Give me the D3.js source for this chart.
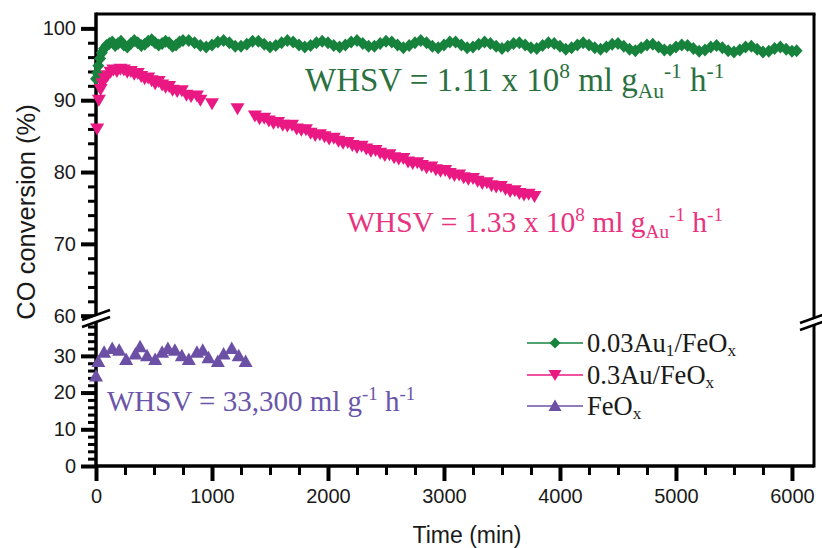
<!DOCTYPE html>
<html><head><meta charset="utf-8">
<script src="https://cdn.jsdelivr.net/npm/d3@7"></script>
<style>body{margin:0;background:#fff}svg{display:block}</style>
</head><body>
<svg id="c" width="822" height="548"></svg>
<script>
// ---------------- data ----------------
const xTickLabels = [0, 1000, 2000, 3000, 4000, 5000, 6000];
const yUpperTickLabels = [60, 70, 80, 90, 100];
const yLowerTickLabels = [0, 10, 20, 30];

const seriesNames = ["0.03Au1/FeOx", "0.3Au/FeOx", "FeOx"];

const greenTime = [0,10,20,35,50,70,90,115,140,165,190,215,240,270,300,330,360,390,420,450,480,510,540,570,600,630,660,690,720,750,
  800,850,900,950,1000,1050,1100,1150,1200,1250,1300,1350,1400,1450,1500,1550,1600,1650,1700,1750,1800,1850,1900,1950,2000,
  2050,2100,2150,2200,2250,2300,2350,2400,2450,2500,2550,2600,2650,2700,2750,2800,2850,2900,2950,3000,3050,3100,3150,3200,
  3250,3300,3350,3400,3450,3500,3550,3600,3650,3700,3750,3800,3850,3900,3950,4000,4050,4100,4150,4200,4250,4300,4350,4400,
  4450,4500,4550,4600,4650,4700,4750,4800,4850,4900,4950,5000,5050,5100,5150,5200,5250,5300,5350,5400,5450,5500,5550,5600,
  5650,5700,5750,5800,5850,5900,5950,6000,6040];
const greenConv = [93.0,93.8,94.8,95.8,96.6,97.2,97.6,97.9,98.1,97.6,97.9,98.2,97.7,97.4,97.9,98.3,98.0,97.6,97.8,98.2,98.4,98.0,97.7,97.9,98.2,98.0,97.5,97.7,98.1,98.3,
  98.3,98.0,97.6,97.4,97.7,98.1,98.3,98.0,97.5,97.5,97.8,98.2,98.2,97.8,97.4,97.6,98.0,98.3,98.1,97.7,97.4,97.6,98.0,98.2,98.0,
  97.6,97.4,97.7,98.1,98.3,97.9,97.5,97.5,97.9,98.2,98.1,97.7,97.3,97.6,98.0,98.3,98.0,97.5,97.3,97.7,98.1,98.1,97.7,97.3,
  97.4,97.8,98.1,97.9,97.5,97.2,97.5,97.9,98.0,97.7,97.3,97.2,97.6,98.0,97.9,97.5,97.1,97.3,97.7,98.0,97.7,97.3,97.1,97.4,
  97.8,97.9,97.5,97.1,96.9,97.3,97.7,97.8,97.4,97.0,97.0,97.4,97.7,97.6,97.2,96.8,97.0,97.4,97.6,97.3,96.9,96.7,97.0,97.4,
  97.5,97.1,96.7,96.8,97.2,97.4,97.1,96.8,96.9];

const pinkTime = [10,25,40,55,75,100,125,150,180,210,240,270,300,330,360,390,420,450,480,510,540,570,600,630,660,700,740,780,820,870,900,1000,
  1220,1370,1410,1450,1490,1530,1570,1610,1650,1690,1730,1770,1810,1850,1890,1930,1970,2010,2050,2090,2130,2170,2210,2250,2290,
  2330,2370,2410,2450,2490,2530,2570,2610,2650,2690,2730,2770,2810,2850,2890,2930,2970,3010,3050,3090,3130,3170,3210,3250,
  3290,3330,3370,3410,3450,3490,3530,3570,3610,3650,3690,3730,3780];
const pinkConv = [86.0,90.0,91.5,92.3,93.0,93.4,93.9,94.2,94.0,94.3,94.2,93.9,94.0,93.6,93.7,93.3,93.0,93.1,92.7,92.3,92.6,92.1,91.8,91.9,91.4,91.2,91.3,90.7,90.5,90.6,90.0,89.5,
  88.8,87.8,87.4,87.5,87.1,86.8,86.9,86.5,86.4,86.5,86.0,85.8,85.9,85.4,85.1,85.2,84.9,84.6,84.7,84.3,84.0,84.1,83.7,83.4,83.6,
  83.2,82.9,83.0,82.6,82.3,82.4,82.0,81.8,81.9,81.4,81.2,81.3,80.9,80.6,80.7,80.3,80.1,80.2,79.8,79.5,79.6,79.2,79.0,79.1,
  78.7,78.4,78.5,78.1,77.9,78.0,77.6,77.3,77.4,77.0,76.8,76.9,76.6];

const purpleTime = [0,20,70,140,200,260,340,380,440,510,570,620,680,740,800,870,920,970,1050,1100,1170,1230,1290];
const purpleConv = [24.5,28.5,31.0,32.0,31.5,29.0,30.5,32.5,30.0,29.0,31.0,32.0,31.5,30.0,29.0,31.0,31.5,29.5,28.5,30.5,32.0,30.0,28.5];

// ---------------- layout ----------------
const svg = d3.select("#c");
const L = 96, R = 814, T = 14, B = 466, BRK = 320;
const x = d3.scaleLinear().domain([0, 6190]).range([L, R]);
const yU = d3.scaleLinear().domain([59.4, 102]).range([BRK, T]);
const yL = d3.scaleLinear().domain([0, 39.5]).range([B, BRK + 1]);
const yPos = v => v >= 50 ? yU(v) : yL(v);

const sans = "'Liberation Sans', Arial, sans-serif";
const serif = "'Liberation Serif', 'Times New Roman', serif";
const cGreen = "#16823c", cPink = "#ea1882", cPurple = "#6c50a6";

// ---------------- axes ----------------
function styleAxis(g, sw) {
  g.select(".domain").remove();
  g.selectAll(".tick line").attr("stroke", "#000").attr("stroke-width", sw);
  g.selectAll(".tick text").attr("fill", "#1a1a1a").style("font-family", sans).style("font-size", "20px");
}
const xMinor = d3.range(0, 6001, 250).filter(v => v % 1000 !== 0);
svg.append("g").attr("transform", `translate(0,${B})`)
  .call(d3.axisBottom(x).tickValues(xMinor).tickSize(9).tickFormat(""))
  .call(g => styleAxis(g, 3));
svg.append("g").attr("transform", `translate(0,${B})`)
  .call(d3.axisBottom(x).tickValues(xTickLabels).tickSize(15).tickPadding(8).tickFormat(d3.format("d")))
  .call(g => styleAxis(g, 4));
const yUMinor = d3.range(60, 101, 2).filter(v => v % 10 !== 0);
svg.append("g").attr("transform", `translate(${L},0)`)
  .call(d3.axisLeft(yU).tickValues(yUMinor).tickSize(8).tickFormat(""))
  .call(g => styleAxis(g, 3));
svg.append("g").attr("transform", `translate(${L},0)`)
  .call(d3.axisLeft(yU).tickValues(yUpperTickLabels).tickSize(15).tickPadding(5).tickFormat(d3.format("d")))
  .call(g => styleAxis(g, 4));
const yLMinor = d3.range(2, 39, 2).filter(v => v % 10 !== 0);
svg.append("g").attr("transform", `translate(${L},0)`)
  .call(d3.axisLeft(yL).tickValues(yLMinor).tickSize(8).tickFormat(""))
  .call(g => styleAxis(g, 3));
svg.append("g").attr("transform", `translate(${L},0)`)
  .call(d3.axisLeft(yL).tickValues(yLowerTickLabels).tickSize(15).tickPadding(5).tickFormat(d3.format("d")))
  .call(g => styleAxis(g, 4));

// frame
svg.append("line").attr("x1", L).attr("x2", L).attr("y1", T - 1.5).attr("y2", B + 1.5).attr("stroke", "#000").attr("stroke-width", 3.5);
svg.append("line").attr("x1", L).attr("x2", R).attr("y1", B).attr("y2", B).attr("stroke", "#000").attr("stroke-width", 3.5);
svg.append("line").attr("x1", L).attr("x2", R + 1.5).attr("y1", T).attr("y2", T).attr("stroke", "#000").attr("stroke-width", 3);
svg.append("line").attr("x1", R).attr("x2", R).attr("y1", T).attr("y2", B + 1.5).attr("stroke", "#000").attr("stroke-width", 3);

// axis break marks
function breakMark(cx, cy) {
  const g = svg.append("g");
  g.append("path").attr("d", `M${cx - 14},${cy + 6}L${cx + 14},${cy - 4}L${cx + 14},${cy + 2}L${cx - 14},${cy + 12}Z`).attr("fill", "#fff");
  g.append("line").attr("x1", cx - 14).attr("y1", cy + 5).attr("x2", cx + 14).attr("y2", cy - 5).attr("stroke", "#000").attr("stroke-width", 2.5);
  g.append("line").attr("x1", cx - 14).attr("y1", cy + 12).attr("x2", cx + 14).attr("y2", cy + 2).attr("stroke", "#000").attr("stroke-width", 2.5);
}
breakMark(L, BRK - 5);
breakMark(R, BRK - 2);

// axis titles
svg.append("text").attr("x", 467).attr("y", 543).attr("text-anchor", "middle")
  .style("font-family", sans).style("font-size", "23px").attr("fill", "#1a1a1a").text("Time (min)");
svg.append("text").attr("transform", "translate(35,212) rotate(-90)").attr("text-anchor", "middle")
  .style("font-family", sans).style("font-size", "25.5px").attr("fill", "#1a1a1a").text("CO conversion (%)");

// ---------------- markers ----------------
const diamondPath = "M0,-6.5L6,0L0,6.5L-6,0Z";
const downTri = "M-7,-5.5L7,-5.5L0,6.5Z";
const upTri = "M0,-7L7,5.5L-7,5.5Z";

function drawSeries(times, vals, path, color) {
  svg.append("g").selectAll("path").data(times.map((t, i) => [t, vals[i]])).join("path")
    .attr("d", path).attr("fill", color)
    .attr("transform", d => `translate(${x(d[0])},${yPos(d[1])})`);
}
drawSeries(greenTime, greenConv, diamondPath, cGreen);
drawSeries(pinkTime, pinkConv, downTri, cPink);
drawSeries(purpleTime, purpleConv, upTri, cPurple);

// ---------------- rich text ----------------
function rich(xp, yp, fs, color, parts, subShift = 0.22) {
  const t = svg.append("text").attr("x", xp).attr("y", yp).style("font-family", serif)
    .style("font-size", fs + "px").attr("fill", color);
  let shift = 0;
  parts.forEach(p => {
    const target = p.s === "sup" ? -0.38 * fs : p.s === "sub" ? subShift * fs : 0;
    const ts = t.append("tspan").attr("dy", target - shift).text(p.t);
    if (p.s) ts.style("font-size", (fs * 0.65) + "px");
    shift = target;
  });
  return t;
}
rich(305, 91, 33, "#2b7140", [
  {t: "WHSV = 1.11 x 10"}, {t: "8", s: "sup"}, {t: " ml g"}, {t: "Au", s: "sub"}, {t: "-1", s: "sup"}, {t: " h"}, {t: "-1", s: "sup"}]);
rich(347, 232, 29.5, "#e8337f", [
  {t: "WHSV = 1.33 x 10"}, {t: "8", s: "sup"}, {t: " ml g"}, {t: "Au", s: "sub"}, {t: "-1", s: "sup"}, {t: " h"}, {t: "-1", s: "sup"}]);
rich(107, 411, 29, "#6a55a8", [
  {t: "WHSV = 33,300 ml g"}, {t: "-1", s: "sup"}, {t: " h"}, {t: "-1", s: "sup"}]);

// ---------------- legend ----------------
const legendParts = [
  [{t: "0.03Au"}, {t: "1", s: "sub"}, {t: "/FeO"}, {t: "x", s: "sub"}],
  [{t: "0.3Au/FeO"}, {t: "x", s: "sub"}],
  [{t: "FeO"}, {t: "x", s: "sub"}]
];
const legendColors = [cGreen, cPink, cPurple];
const legendShapes = ["M0,-5.5L5.5,0L0,5.5L-5.5,0Z", "M-6.5,-5L6.5,-5L0,6Z", "M0,-6.5L6.5,5L-6.5,5Z"];
const legendY = [343, 375, 406];
seriesNames.forEach((n, i) => {
  const ly = legendY[i];
  svg.append("line").attr("x1", 527).attr("x2", 583).attr("y1", ly).attr("y2", ly)
    .attr("stroke", legendColors[i]).attr("stroke-width", 1.5);
  svg.append("path").attr("d", legendShapes[i]).attr("fill", legendColors[i])
    .attr("transform", `translate(555,${ly})`);
  rich(587, ly + 9, 26.5, "#1a1a1a", legendParts[i], 0.16);
});
</script>
</body></html>
